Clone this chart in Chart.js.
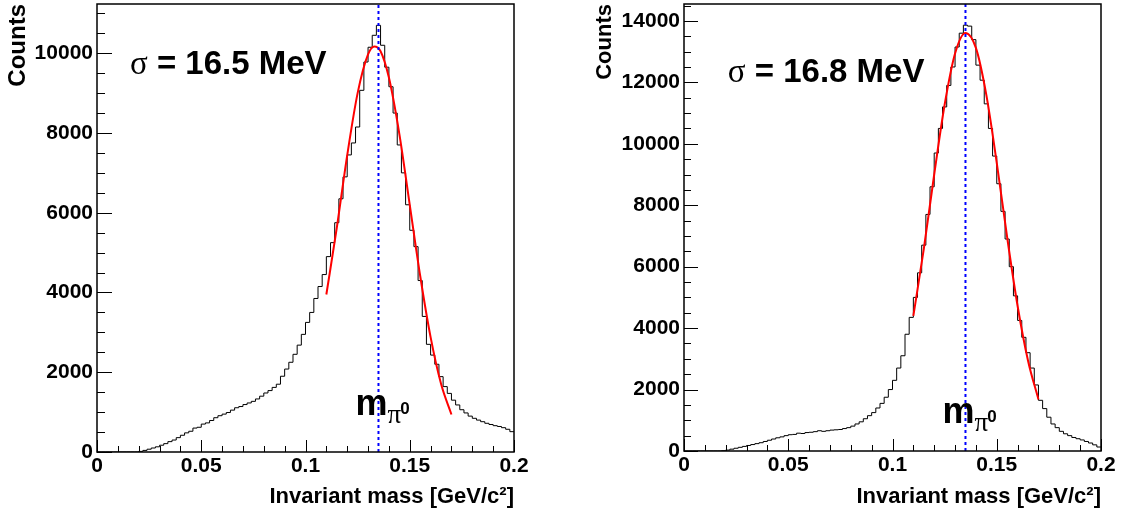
<!DOCTYPE html>
<html>
<head>
<meta charset="utf-8">
<script src="https://cdn.jsdelivr.net/npm/chart.js@4.4.1/dist/chart.umd.min.js"></script>
<style>
  body { margin: 0; background: #fff; }
  canvas { position: absolute; top: 0; }
</style>
</head>
<body>
<canvas id="left" width="540" height="518" style="left:0px"></canvas>
<canvas id="right" width="565" height="518" style="left:560px"></canvas>
<script>
// histogram binning: 100 bins from 0 to 0.2 GeV/c^2
const binWidth = 0.002;

// left panel counts per bin
const leftCounts = [
  0, 0, 0, 0, 0, 0, 0, 0, 0, 0,
  15, 40, 70, 100, 130, 170, 210, 260, 300, 360,
  420, 480, 520, 600, 620, 700, 730, 790, 860, 910,
  950, 990, 1050, 1110, 1140, 1190, 1230, 1270, 1330, 1400,
  1480, 1540, 1620, 1700, 1900, 2080, 2250, 2450, 2680, 2950,
  3250, 3500, 3850, 4150, 4450, 4900, 5250, 5750, 6350, 6900,
  7450, 7750, 8150, 9070, 9780, 10150, 10450, 10700, 10200, 9650,
  9160, 8500, 7700, 7000, 6200, 5560, 5150, 4300, 3400, 2700,
  2430, 2200, 1890, 1640, 1470, 1300, 1180, 1060, 980, 900,
  845, 800, 760, 720, 690, 660, 640, 610, 570, 510
];

// right panel counts per bin
const rightCounts = [
  0, 0, 0, 0, 0, 0, 0, 0, 0, 10,
  30, 60, 90, 120, 150, 180, 210, 240, 270, 310,
  350, 390, 430, 460, 500, 530, 540, 580, 570, 600,
  610, 630, 660, 640, 660, 680, 690, 700, 730, 760,
  810, 880, 950, 1050, 1150, 1250, 1400, 1550, 1750, 2000,
  2300, 2700, 3100, 3800, 4350, 5000, 5800, 6700, 7700, 8600,
  9700, 10500, 11200, 11900, 12500, 13150, 13600, 13860, 13830, 13390,
  12560, 12070, 11300, 10500, 9600, 8700, 7800, 6900, 6000, 5050,
  4250, 3700, 3200, 2700, 2150, 1650, 1380, 1100, 880, 760,
  640, 560, 500, 440, 400, 360, 310, 260, 200, 130
];

// gaussian fit curves (red)
const leftFitX = [0.110, 0.115, 0.120, 0.125, 0.130, 0.133, 0.136, 0.140, 0.145, 0.150, 0.155, 0.160, 0.165, 0.170];
const leftFitY = [3950, 5620, 7440, 9000, 9970, 10170, 10050, 9390, 7980, 6200, 4420, 2880, 1710, 940];
const rightFitX = [0.110, 0.115, 0.120, 0.125, 0.130, 0.135, 0.140, 0.145, 0.150, 0.155, 0.160, 0.165, 0.170];
const rightFitY = [4400, 6570, 9000, 11270, 12940, 13610, 13120, 11590, 9380, 6950, 4720, 2940, 1680];

const xTicks = [0, 0.05, 0.1, 0.15, 0.2];
const leftYTicks = [0, 2000, 4000, 6000, 8000, 10000];
const rightYTicks = [0, 2000, 4000, 6000, 8000, 10000, 12000, 14000];
const piMass = 0.135;
const sigmaLabels = ['16.5 MeV', '16.8 MeV'];

function histPoints(counts) {
  const pts = counts.map((c, i) => ({x: i * binWidth, y: c}));
  pts.push({x: counts.length * binWidth, y: counts[counts.length - 1]});
  return pts;
}

// frame, inward ticks, and text labels in the ROOT style
const rootStyle = {
  id: 'rootStyle',
  afterDatasetsDraw(chart, args, o) {
    const {ctx, chartArea: a, scales: {x, y}} = chart;
    ctx.save();
    ctx.strokeStyle = '#000';
    ctx.lineWidth = 1;
    ctx.beginPath();
    for (let k = 0; k * 500 <= y.max; k++) {
      const py = Math.round(y.getPixelForValue(k * 500)) + 0.5;
      const len = k % 4 === 0 ? o.yMajor : o.yMinor;
      ctx.moveTo(a.left, py);
      ctx.lineTo(a.left + len, py);
    }
    for (let k = 0; k <= 20; k++) {
      const px = Math.round(x.getPixelForValue(k * 0.01)) + 0.5;
      const len = k % 5 === 0 ? 12 : 6;
      ctx.moveTo(px, a.bottom);
      ctx.lineTo(px, a.bottom - len);
    }
    ctx.stroke();
    ctx.lineWidth = 1.5;
    ctx.strokeRect(a.left, a.top, a.width, a.height);

    ctx.fillStyle = '#000';
    ctx.textBaseline = 'alphabetic';
    ctx.textAlign = 'left';
    // sigma label
    let px = x.getPixelForValue(o.sigmaAt[0]);
    let py = y.getPixelForValue(o.sigmaAt[1]);
    ctx.font = '33px "Liberation Serif"';
    ctx.fillText('σ', px, py);
    px += ctx.measureText('σ').width;
    ctx.font = 'bold 33px "Liberation Sans"';
    ctx.fillText(' = ' + o.sigma, px, py);
    // m_pi0 label
    px = x.getPixelForValue(o.massAt[0]);
    py = y.getPixelForValue(o.massAt[1]);
    ctx.font = 'bold 36px "Liberation Sans"';
    ctx.fillText('m', px, py);
    px += ctx.measureText('m').width;
    ctx.font = '27px "Liberation Serif"';
    ctx.fillText('π', px, py + 8);
    px += ctx.measureText('π').width - 1;
    ctx.font = 'bold 17px "Liberation Sans"';
    ctx.fillText('0', px, py - 1);
    ctx.restore();
  }
};

function makeChart(id, counts, fitX, fitY, yTicks, cfg) {
  const fit = fitX.map((v, i) => ({x: v, y: fitY[i]}));
  new Chart(document.getElementById(id), {
    type: 'line',
    data: {
      datasets: [
        {
          data: [{x: piMass, y: 0}, {x: piMass, y: cfg.yMax}],
          borderColor: '#0000ff', borderWidth: 2, borderDash: [3, 3],
          pointRadius: 0
        },
        {
          data: fit,
          borderColor: '#ff0000', borderWidth: 2,
          cubicInterpolationMode: 'monotone', pointRadius: 0
        },
        {
          data: histPoints(counts),
          borderColor: '#000', borderWidth: 1,
          stepped: 'before', pointRadius: 0
        }
      ]
    },
    options: {
      responsive: false,
      animation: false,
      devicePixelRatio: 1,
      layout: {padding: {top: 4, right: cfg.padRight, left: 0, bottom: 0}},
      plugins: {
        legend: {display: false},
        tooltip: {enabled: false},
        rootStyle: cfg
      },
      scales: {
        x: {
          type: 'linear', min: 0, max: 0.2,
          afterBuildTicks: s => { s.ticks = xTicks.map(v => ({value: v})); },
          afterFit: s => { s.height = cfg.xHeight; s.paddingLeft = 0; s.paddingRight = 0; },
          grid: {display: false, drawTicks: false},
          border: {display: false},
          ticks: {
            padding: 2, color: '#000', maxRotation: 0, autoSkip: false,
            font: {size: 21, weight: 'bold'},
            callback: v => String(+v.toFixed(3))
          },
          title: {
            display: true, text: 'Invariant mass [GeV/c²]', align: 'end', color: '#000',
            font: {size: 22, weight: 'bold'}, padding: {top: 0, bottom: 8}
          }
        },
        y: {
          min: 0, max: cfg.yMax,
          afterBuildTicks: s => { s.ticks = yTicks.map(v => ({value: v})); },
          afterFit: s => { s.width = cfg.yWidth; s.paddingTop = 0; s.paddingBottom = 0; },
          grid: {display: false, drawTicks: false},
          border: {display: false},
          ticks: {
            padding: 4, color: '#000', autoSkip: false,
            font: {size: 21, weight: 'bold'},
            callback: v => String(v)
          },
          title: {
            display: true, text: 'Counts', align: 'end', color: '#000',
            font: {size: cfg.yTitleSize, weight: 'bold'}, padding: {top: cfg.yTitlePad, bottom: 0}
          }
        }
      }
    },
    plugins: [rootStyle]
  });
}

Chart.defaults.font.family = '"Liberation Sans", Arial, sans-serif';

makeChart('left', leftCounts, leftFitX, leftFitY, leftYTicks, {
  yMax: 11235, padRight: 26, xHeight: 66, yWidth: 97,
  yTitleSize: 24, yTitlePad: 4, yMajor: 15, yMinor: 8,
  sigma: sigmaLabels[0], sigmaAt: [0.0158, 9470], massAt: [0.124, 930]
});
makeChart('right', rightCounts, rightFitX, rightFitY, rightYTicks, {
  yMax: 14550, padRight: 24, xHeight: 67, yWidth: 124,
  yTitleSize: 22, yTitlePad: 32, yMajor: 14, yMinor: 7,
  sigma: sigmaLabels[1], sigmaAt: [0.021, 12000], massAt: [0.124, 900]
});
</script>
</body>
</html>
